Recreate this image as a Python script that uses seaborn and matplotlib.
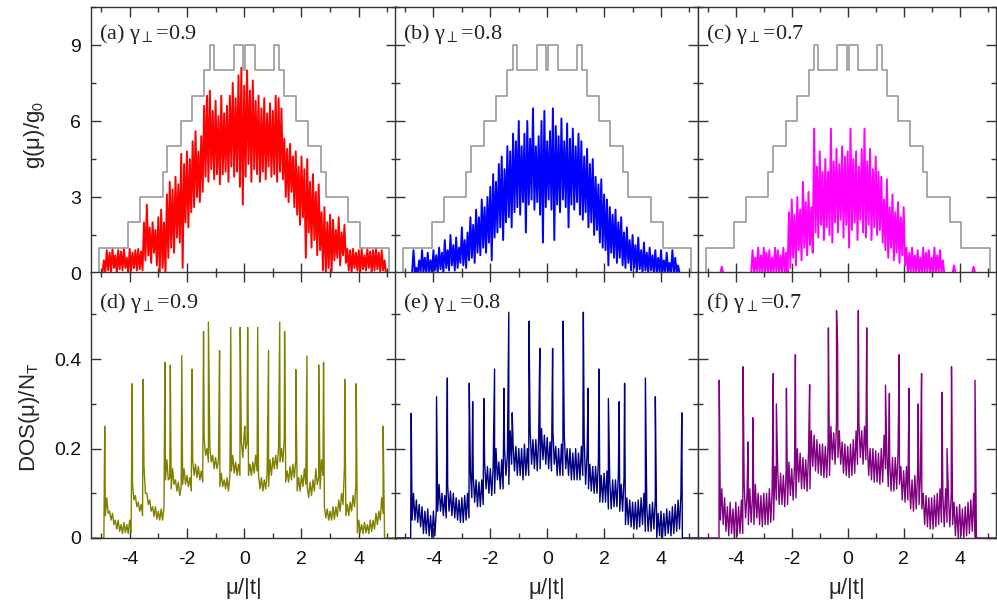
import numpy as np
import pandas as pd
import matplotlib
matplotlib.use("Agg")
import matplotlib.pyplot as plt
import seaborn as sns
from matplotlib.ticker import MultipleLocator, FuncFormatter

# ---------------------------------------------------------------------------
# Data
# ---------------------------------------------------------------------------
XMIN, XMAX = -5.35, 5.3
# sample positions of the traces, mu/|t| = -5.0 ... 5.0 in steps of 0.1
mu_grid = np.round(np.arange(101) * 0.1 - 5.0, 2)

# upper bound g(mu)/g0 (staircase): edges and the level right of each edge
g_edges = [-5.07, -4.06, -3.64, -2.84, -2.68, -2.22, -1.81, -1.40, -1.21, -1.05,
           -0.37, -0.03, 0.03, 0.37, 1.05, 1.21, 1.40, 1.81, 2.22, 2.68, 2.84,
           3.64, 4.06, 5.07]
g_levels = [1, 2, 3, 4, 5, 6, 7, 8, 9, 8, 9, 8, 9, 8, 9, 8, 7, 6, 5, 4, 3, 2, 1, 0]

# g(mu)/g0: crest (at mu) and trough (at mu + 0.05) of the fluctuating trace
g09_hi = [0, 0.5, 0.9, 0.8, 0.95, 0.7, 0.9, 0.85, 0.95, 0.6,
          0.95, 0.8, 0.9, 0.95, 0.85, 2.0, 2.7, 1.8, 2.0, 1.7,
          2.2, 2.5, 2.0, 3.1, 3.6, 3.3, 3.8, 3.5, 4.7, 4.3,
          4.8, 4.5, 5.2, 5.6, 4.8, 5.4, 6.6, 7.0, 7.2, 6.4,
          6.8, 6.2, 7.0, 6.3, 6.6, 7.0, 7.5, 6.9, 7.8, 8.1,
          7.4, 8.0, 7.2, 7.6, 6.8, 7.0, 6.5, 6.9, 6.3, 6.7,
          6.4, 7.0, 6.9, 6.5, 5.3, 4.9, 5.1, 4.6, 4.8, 4.2,
          4.6, 4.1, 4.5, 3.6, 3.9, 3.2, 3.5, 2.4, 2.6, 2.0,
          2.3, 2.1, 1.7, 2.2, 1.6, 1.9, 0.95, 0.9, 0.95, 0.8,
          0.9, 0.95, 0.7, 0.95, 0.85, 0.9, 0.95, 0.8, 0.9, 0.5,
          0]
g09_lo = [0, 0, 0.1, 0.05, 0.2, 0, 0.15, 0.1, 0.2, 0,
          0.1, 0.2, 0.1, 0.15, 0.1, 0.5, 0.7, 0.4, 0.8, 0.3,
          0.0, 0.2, 0.0, 0.6, 1.0, 0.8, 1.4, 1.2, 0.2, 2.0,
          1.8, 2.4, 2.6, 3.0, 2.8, 3.2, 3.8, 3.6, 4.1, 3.7,
          3.9, 3.5, 3.9, 4.0, 3.6, 4.2, 3.8, 4.0, 3.4, 2.7,
          3.8, 4.3, 3.6, 4.1, 3.9, 3.6, 4.0, 3.7, 4.2, 3.8,
          3.9, 3.6, 4.0, 3.7, 3.0, 2.8, 3.2, 2.6, 2.3, 1.9,
          2.2, 0.6, 1.6, 1.0, 1.3, 0.7, 0.9, 0.1, 0.0, 0.2,
          0.0, 0.5, 0.6, 0.3, 0.7, 0.4, 0.1, 0.0, 0.2, 0.1,
          0.0, 0.15, 0.1, 0.2, 0.0, 0.1, 0.15, 0.05, 0.1, 0,
          0]

g08_hi = [0, 0, 0, 0.9, 0.2, 0.5, 0.9, 0.6, 0.8, 0.5,
          0.9, 0.7, 1.0, 0.8, 1.3, 0.9, 1.5, 1.1, 1.4, 1.0,
          1.8, 1.3, 1.6, 2.2, 1.9, 2.5, 2.2, 2.9, 2.6, 3.0,
          3.4, 3.9, 3.6, 4.3, 4.6, 4.1, 5.0, 4.8, 5.5, 5.2,
          6.0, 5.0, 5.5, 6.0, 5.3, 6.5, 5.0, 5.4, 6.0, 6.4,
          5.2, 5.6, 6.5, 5.8, 5.4, 6.1, 5.2, 5.9, 5.3, 5.7,
          5.0, 5.5, 5.2, 4.6, 4.9, 4.3, 4.5, 3.8, 3.5, 3.7,
          3.1, 2.9, 2.6, 2.3, 2.5, 2.0, 2.2, 1.6, 1.8, 1.3,
          1.5, 1.1, 1.4, 0.9, 1.2, 0.8, 1.0, 0.7, 0.9, 0.6,
          0.9, 0.5, 0.8, 0.4, 0.9, 0.6, 0.3, 0, 0, 0,
          0]
g08_lo = [0, 0, 0, 0, 0, 0, 0, 0, 0.05, 0,
          0.1, 0, 0.15, 0, 0.2, 0.1, 0.3, 0.1, 0.2, 0.4,
          0.3, 0.2, 0.5, 0.6, 0.4, 0.8, 0.7, 1.0, 0.8, 1.2,
          0.5, 1.4, 1.6, 1.8, 1.3, 2.0, 2.2, 1.8, 2.4, 2.6,
          2.3, 2.8, 1.6, 2.7, 2.9, 2.5, 2.8, 2.3, 1.2, 2.6,
          2.9, 2.5, 1.3, 2.7, 2.4, 2.9, 2.6, 1.8, 2.7, 2.5,
          2.8, 2.3, 2.1, 2.4, 1.8, 2.0, 1.5, 1.7, 1.2, 1.0,
          0.9, 0.3, 0.8, 0.6, 0.4, 0.6, 0.3, 0.2, 0.4, 0.1,
          0.2, 0.0, 0.15, 0.0, 0.1, 0.0, 0.1, 0, 0, 0,
          0, 0, 0, 0, 0, 0, 0, 0, 0, 0,
          0]

g07_hi = [0, 0, 0, 0, 0, 0.25, 0, 0, 0, 0,
          0, 0, 0, 0, 0, 0, 0.9, 0.6, 1.0, 0.7,
          1.0, 0.8, 0.9, 0.6, 1.0, 0.9, 0.7, 1.0, 0.8, 2.4,
          2.9, 2.3, 3.0, 2.5, 3.6, 2.8, 3.2, 2.6, 5.7, 4.2,
          4.8, 4.0, 4.5, 4.0, 5.7, 4.4, 4.9, 4.3, 5.0, 4.6,
          4.8, 5.7, 4.5, 4.8, 4.2, 4.9, 5.7, 4.4, 4.9, 4.1,
          4.6, 4.0, 3.8, 2.9, 3.7, 2.6, 3.1, 2.4, 2.8, 2.2,
          2.6, 1.0, 0.8, 1.0, 0.7, 0.9, 0.6, 1.0, 0.8, 0.9,
          0.6, 1.0, 0.7, 0.9, 0.5, 0, 0, 0, 0.3, 0,
          0, 0, 0, 0, 0, 0.25, 0, 0, 0, 0,
          0]
g07_lo = [0, 0, 0, 0, 0, 0, 0, 0, 0, 0,
          0, 0, 0, 0, 0, 0, 0, 0, 0, 0,
          0, 0, 0, 0, 0, 0, 0, 0, 0, 0.2,
          0.6, 0.3, 0.9, 0.5, 1.0, 0.7, 1.1, 0.8, 1.6, 1.4,
          1.9, 1.3, 1.8, 1.5, 1.2, 2.0, 1.6, 2.1, 1.4, 1.9,
          1.0, 1.7, 2.0, 1.3, 2.1, 1.6, 1.4, 1.9, 1.3, 1.8,
          1.5, 1.7, 1.2, 0.9, 0.6, 1.0, 0.5, 0.8, 0.4, 0.7,
          0.3, 0, 0, 0, 0, 0, 0, 0, 0, 0,
          0, 0, 0, 0, 0, 0, 0, 0, 0, 0,
          0, 0, 0, 0, 0, 0, 0, 0, 0, 0,
          0]

# DOS(mu)/N_T: crest / trough of the background plus the sharp peaks
dos09_hi = [0, 0, 0.09, 0.06, 0.055, 0.04, 0.04, 0.03, 0.035, 0.03,
            0.04, 0.12, 0.095, 0.08, 0.075, 0.16, 0.1, 0.085, 0.07, 0.07,
            0.06, 0.065, 0.07, 0.175, 0.135, 0.155, 0.13, 0.125, 0.115, 0.155,
            0.14, 0.135, 0.175, 0.165, 0.16, 0.15, 0.225, 0.2, 0.205, 0.185,
            0.18, 0.175, 0.145, 0.13, 0.135, 0.14, 0.185, 0.17, 0.165, 0.215,
            0.235, 0.215, 0.165, 0.17, 0.185, 0.14, 0.135, 0.13, 0.145, 0.175,
            0.18, 0.185, 0.205, 0.2, 0.225, 0.15, 0.16, 0.165, 0.175, 0.135,
            0.14, 0.155, 0.115, 0.125, 0.13, 0.155, 0.135, 0.175, 0.07, 0.065,
            0.06, 0.07, 0.07, 0.085, 0.1, 0.16, 0.075, 0.08, 0.095, 0.12,
            0.04, 0.03, 0.035, 0.03, 0.04, 0.04, 0.055, 0.06, 0.09, 0,
            0]
dos09_lo = [0, 0.05, 0.055, 0.04, 0.03, 0.02, 0.015, 0.01, 0.012, 0.01,
            0.012, 0.085, 0.07, 0.06, 0.05, 0.1, 0.075, 0.06, 0.048, 0.042,
            0.04, 0.04, 0.13, 0.13, 0.11, 0.12, 0.105, 0.095, 0.12, 0.12,
            0.115, 0.105, 0.14, 0.135, 0.13, 0.125, 0.185, 0.17, 0.17, 0.155,
            0.155, 0.115, 0.115, 0.11, 0.105, 0.15, 0.145, 0.14, 0.14, 0.18,
            0.2, 0.14, 0.14, 0.145, 0.15, 0.11, 0.105, 0.11, 0.115, 0.14,
            0.155, 0.155, 0.17, 0.17, 0.125, 0.125, 0.13, 0.135, 0.105, 0.105,
            0.115, 0.12, 0.09, 0.095, 0.105, 0.12, 0.11, 0.14, 0.045, 0.04,
            0.04, 0.042, 0.048, 0.06, 0.075, 0.05, 0.05, 0.06, 0.07, 0.012,
            0.012, 0.01, 0.012, 0.01, 0.015, 0.02, 0.03, 0.04, 0.055, 0,
            0]
dos09_peak_mu = [-4.87, -3.91, -3.53, -2.77, -2.58, -2.18, -1.82, -1.42, -1.25,
                 -0.86, -0.47, -0.14, 0.02, 0.12, 0.47, 0.85, 1.24, 1.41, 1.80,
                 2.19, 2.60, 2.77, 3.51, 3.91, 4.85]
dos09_peak = [0.25, 0.345, 0.355, 0.393, 0.387, 0.408, 0.378, 0.462, 0.483,
              0.419, 0.471, 0.471, 0.25, 0.471, 0.471, 0.42, 0.483, 0.462, 0.377,
              0.407, 0.387, 0.393, 0.355, 0.345, 0.25]

dos08_hi = [0, 0, 0, 0.1, 0.085, 0.075, 0.07, 0.06, 0.065, 0.05,
            0.06, 0.06, 0.12, 0.1, 0.095, 0.12, 0.105, 0.1, 0.09, 0.085,
            0.09, 0.095, 0.1, 0.15, 0.14, 0.13, 0.125, 0.13, 0.17, 0.16,
            0.155, 0.16, 0.2, 0.17, 0.175, 0.2, 0.185, 0.24, 0.21, 0.205,
            0.2, 0.2, 0.21, 0.2, 0.24, 0.22, 0.22, 0.225, 0.245, 0.23,
            0.225, 0.215, 0.24, 0.205, 0.2, 0.21, 0.23, 0.2, 0.2, 0.19,
            0.2, 0.19, 0.205, 0.22, 0.185, 0.165, 0.16, 0.16, 0.175, 0.14,
            0.145, 0.15, 0.125, 0.13, 0.13, 0.14, 0.12, 0.135, 0.09, 0.085,
            0.08, 0.08, 0.085, 0.09, 0.1, 0.07, 0.075, 0.08, 0.09, 0.055,
            0.06, 0.055, 0.065, 0.06, 0.07, 0.075, 0.085, 0.1, 0, 0,
            0]
dos08_lo = [0, 0, 0.04, 0.04, 0.035, 0.025, 0.01, 0.01, 0.005, 0.0,
            0.005, 0.06, 0.06, 0.05, 0.045, 0.06, 0.05, 0.045, 0.04, 0.035,
            0.035, 0.04, 0.045, 0.09, 0.08, 0.07, 0.07, 0.075, 0.11, 0.1,
            0.095, 0.1, 0.13, 0.11, 0.11, 0.14, 0.12, 0.165, 0.15, 0.14,
            0.14, 0.13, 0.14, 0.14, 0.165, 0.155, 0.15, 0.155, 0.175, 0.165,
            0.155, 0.15, 0.165, 0.14, 0.14, 0.14, 0.155, 0.14, 0.13, 0.13,
            0.13, 0.13, 0.14, 0.12, 0.11, 0.105, 0.1, 0.1, 0.08, 0.08,
            0.08, 0.065, 0.065, 0.07, 0.07, 0.06, 0.06, 0.03, 0.03, 0.025,
            0.02, 0.02, 0.025, 0.03, 0.015, 0.015, 0.015, 0.02, 0.0, 0.005,
            0.0, 0.005, 0.01, 0.005, 0.01, 0.015, 0.02, 0.0, 0, 0,
            0]
dos08_peak_mu = [-4.78, -3.89, -3.51, -2.74, -2.62, -2.23, -1.85, -1.52, -1.35,
                 -1.23, -0.64, -0.26, 0.19, 0.56, 1.27, 1.44, 1.82, 2.15, 2.53,
                 2.72, 3.45, 3.80, 4.73]
dos08_peak = [0.279, 0.316, 0.358, 0.346, 0.305, 0.312, 0.378, 0.335, 0.505,
              0.28, 0.485, 0.424, 0.424, 0.485, 0.505, 0.335, 0.378, 0.312, 0.305,
              0.346, 0.358, 0.316, 0.28]

dos07_hi = [0, 0, 0, 0, 0, 0.11, 0.09, 0.07, 0.08, 0.065,
            0.08, 0.07, 0.085, 0.12, 0.095, 0.11, 0.095, 0.12, 0.1, 0.095,
            0.1, 0.1, 0.11, 0.11, 0.16, 0.15, 0.145, 0.14, 0.15, 0.17,
            0.155, 0.165, 0.2, 0.19, 0.18, 0.175, 0.19, 0.24, 0.23, 0.22,
            0.21, 0.21, 0.205, 0.215, 0.25, 0.235, 0.26, 0.24, 0.215, 0.21,
            0.205, 0.21, 0.22, 0.24, 0.26, 0.24, 0.25, 0.215, 0.2, 0.2,
            0.195, 0.19, 0.2, 0.23, 0.19, 0.175, 0.18, 0.18, 0.195, 0.16,
            0.15, 0.16, 0.14, 0.13, 0.14, 0.15, 0.14, 0.1, 0.095, 0.09,
            0.09, 0.095, 0.1, 0.11, 0.1, 0.11, 0.095, 0.1, 0.08, 0.07,
            0.075, 0.065, 0.07, 0.08, 0.085, 0.1, 0, 0, 0, 0,
            0]
dos07_lo = [0, 0, 0, 0, 0.04, 0.03, 0.015, 0.005, 0.01, 0.0,
            0.005, 0.01, 0.01, 0.045, 0.03, 0.035, 0.03, 0.045, 0.03, 0.025,
            0.03, 0.03, 0.035, 0.04, 0.085, 0.075, 0.075, 0.07, 0.075, 0.095,
            0.085, 0.09, 0.125, 0.11, 0.11, 0.105, 0.11, 0.16, 0.15, 0.145,
            0.14, 0.135, 0.135, 0.14, 0.175, 0.165, 0.18, 0.165, 0.145, 0.14,
            0.135, 0.14, 0.145, 0.165, 0.18, 0.165, 0.175, 0.14, 0.13, 0.125,
            0.125, 0.12, 0.125, 0.155, 0.115, 0.105, 0.105, 0.11, 0.12, 0.085,
            0.08, 0.085, 0.065, 0.06, 0.065, 0.075, 0.065, 0.03, 0.025, 0.02,
            0.02, 0.025, 0.03, 0.035, 0.025, 0.035, 0.025, 0.03, 0.005, 0.0,
            0.005, 0.0, 0.005, 0.01, 0.015, 0.0, 0, 0, 0, 0,
            0]
dos07_peak_mu = [-4.59, -3.74, -3.56, -3.39, -2.66, -2.55, -2.19, -1.87, -1.36,
                 -0.69, -0.40, -0.36, 0.38, 0.68, 1.35, 1.49, 1.84, 2.19, 2.52,
                 2.64, 3.37, 3.55, 3.71, 4.55]
dos07_peak = [0.353, 0.383, 0.215, 0.269, 0.368, 0.30, 0.335, 0.41, 0.343,
              0.47, 0.509, 0.43, 0.509, 0.47, 0.342, 0.323, 0.41, 0.335, 0.30,
              0.368, 0.326, 0.20, 0.383, 0.353]

panel_tags = ["(a)", "(b)", "(c)", "(d)", "(e)", "(f)"]
gamma_perp = ["0.9", "0.8", "0.7"]
g_colors = ["#ff0000", "#0000ff", "#ff00ff"]
dos_colors = ["#808000", "#000080", "#800080"]


def trace_frame(hi, lo, peak_mu=(), peak=()):
    """Crests at mu, troughs half a step later, peaks at their own mu."""
    hi = np.asarray(hi, float)
    lo = np.asarray(lo, float)
    assert len(hi) == len(mu_grid) and len(lo) == len(mu_grid)
    x = np.concatenate([[XMIN], mu_grid, mu_grid + 0.05, peak_mu, [XMAX]])
    y = np.concatenate([[0.0], hi, lo, peak, [0.0]])
    order = np.argsort(x, kind="stable")
    return pd.DataFrame({"mu": x[order], "value": y[order]})


stairs = pd.DataFrame({"mu": [XMIN] + g_edges + [XMAX],
                       "value": [0] + g_levels + [0]})
g_frames = [trace_frame(g09_hi, g09_lo), trace_frame(g08_hi, g08_lo),
            trace_frame(g07_hi, g07_lo)]
dos_frames = [trace_frame(dos09_hi, dos09_lo, dos09_peak_mu, dos09_peak),
              trace_frame(dos08_hi, dos08_lo, dos08_peak_mu, dos08_peak),
              trace_frame(dos07_hi, dos07_lo, dos07_peak_mu, dos07_peak)]

# ---------------------------------------------------------------------------
# Figure
# ---------------------------------------------------------------------------
sns.set_style("ticks")
plt.rcParams["font.family"] = ["Liberation Sans", "DejaVu Sans"]
plt.rcParams["axes.unicode_minus"] = False

W, H = 997, 603
fig = plt.figure(figsize=(W / 100, H / 100), dpi=100)

col_px = [(91, 305), (395, 303), (698, 298)]
row_px = [(7, 273), (272, 538)]

frame_color = "#333333"
fmt = FuncFormatter(lambda v, _: "0" if abs(v) < 1e-9 else f"{v:g}")

axes = []
for r, (ytop, ybot) in enumerate(row_px):
    for c, (x0, w) in enumerate(col_px):
        ax = fig.add_axes([x0 / W, 1 - ybot / H, w / W, (ybot - ytop) / H])
        axes.append(ax)
        k = r * 3 + c
        if r == 0:
            sns.lineplot(data=g_frames[c], x="mu", y="value", ax=ax,
                         estimator=None, sort=False, color=g_colors[c],
                         lw=1.4, legend=False)
            sns.lineplot(data=stairs, x="mu", y="value", ax=ax,
                         estimator=None, sort=False, color="#999999",
                         lw=1.2, drawstyle="steps-post", legend=False)
            ax.set_ylim(0, 10.5)
            ax.yaxis.set_major_locator(MultipleLocator(3))
            ax.yaxis.set_minor_locator(MultipleLocator(1.5))
            ax.tick_params(labelbottom=False)
            txt_y = 0.88
        else:
            sns.lineplot(data=dos_frames[c], x="mu", y="value", ax=ax,
                         estimator=None, sort=False, color=dos_colors[c],
                         lw=1.0, legend=False)
            ax.set_ylim(0, 0.595)
            ax.yaxis.set_major_locator(MultipleLocator(0.2))
            ax.yaxis.set_minor_locator(MultipleLocator(0.1))
            ax.set_xlabel("μ/|t|", fontsize=16)
            ax.xaxis.set_label_coords(0.5, -0.15)
            txt_y = 0.865

        ax.set_xlim(XMIN, XMAX)
        ax.xaxis.set_major_locator(MultipleLocator(2))
        ax.xaxis.set_minor_locator(MultipleLocator(1))
        ax.xaxis.set_major_formatter(fmt)
        ax.yaxis.set_major_formatter(fmt)
        if r == 0:
            ax.set_xlabel("")
        if c > 0:
            ax.tick_params(labelleft=False)
            ax.set_ylabel("")
        ax.tick_params(which="both", direction="in", top=True, right=True,
                       color=frame_color, width=1.0, labelsize=14,
                       labelcolor="#111111")
        ax.tick_params(which="major", length=7)
        ax.tick_params(which="minor", length=3.5)
        ax.tick_params(axis="x", pad=9)
        ax.tick_params(axis="y", pad=7)
        for s in ax.spines.values():
            s.set_color(frame_color)
            s.set_linewidth(1.0)

        ax.text(0.026, txt_y,
                f"{panel_tags[k]} γ$_{{\\perp}}$=" + gamma_perp[c],
                transform=ax.transAxes, fontsize=16, va="baseline",
                family=["Liberation Serif", "DejaVu Serif"],
                math_fontfamily="stix", color="#222222")

axes[0].set_ylabel("g(μ)/g$_0$", fontsize=16, math_fontfamily="stixsans")
axes[0].yaxis.set_label_coords(-0.144, 0.52)
axes[3].set_ylabel("DOS(μ)/N$_\\mathrm{T}$", fontsize=16,
                   math_fontfamily="stixsans")
axes[3].yaxis.set_label_coords(-0.16, 0.455)

fig.savefig("out.png", dpi=100)
